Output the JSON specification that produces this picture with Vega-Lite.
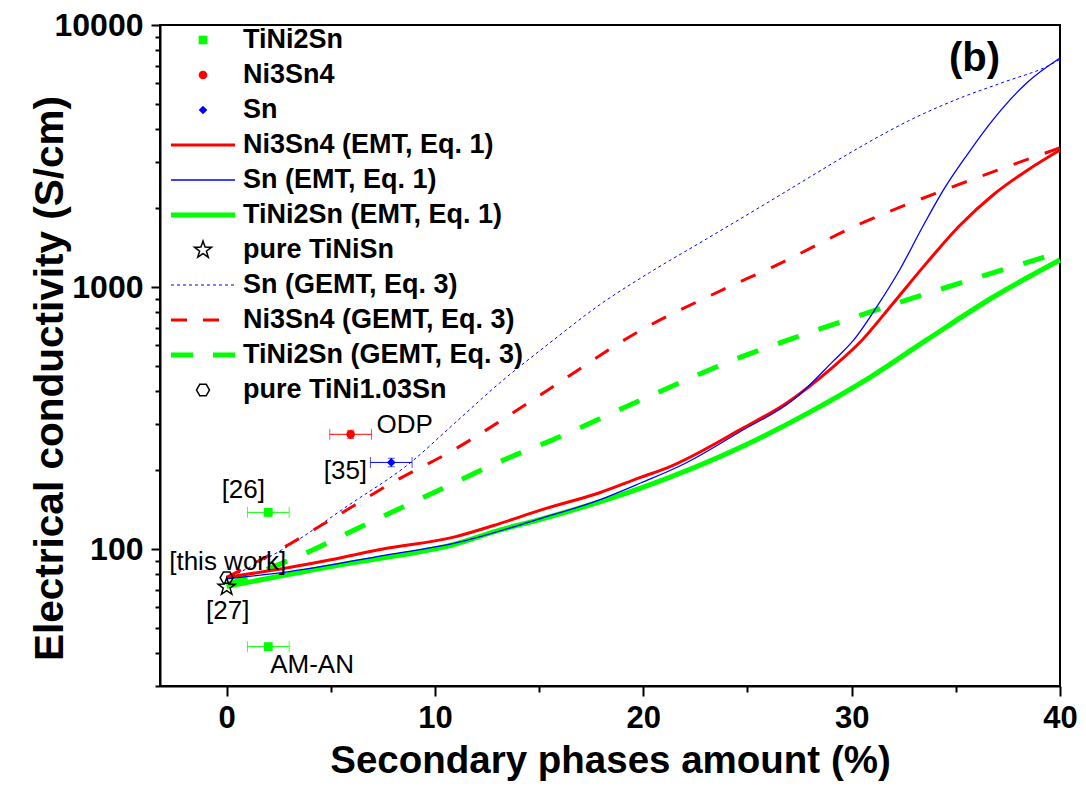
{
  "$schema": "https://vega.github.io/schema/vega-lite/v6.json",
  "width": 900,
  "height": 661,
  "autosize": {"type": "none"},
  "padding": {"left": 160, "top": 25, "right": 26, "bottom": 101},
  "background": "white",
  "config": {
    "view": {"stroke": "black", "strokeWidth": 2},
    "axis": {
      "domainColor": "black", "domainWidth": 2, "tickColor": "black", "tickWidth": 2,
      "labelColor": "black", "titleColor": "black", "grid": false,
      "labelFont": "Liberation Sans", "labelFontWeight": "bold",
      "titleFont": "Liberation Sans", "titleFontWeight": "bold"
    }
  },
  "datasets": {
    "curves": [
      {"series": "Ni3Sn4 (EMT, Eq. 1)", "x": 0, "y": 78},
      {"series": "Ni3Sn4 (EMT, Eq. 1)", "x": 3, "y": 85},
      {"series": "Ni3Sn4 (EMT, Eq. 1)", "x": 5, "y": 91},
      {"series": "Ni3Sn4 (EMT, Eq. 1)", "x": 7.5, "y": 100},
      {"series": "Ni3Sn4 (EMT, Eq. 1)", "x": 10.9, "y": 111},
      {"series": "Ni3Sn4 (EMT, Eq. 1)", "x": 13.1, "y": 125},
      {"series": "Ni3Sn4 (EMT, Eq. 1)", "x": 15.1, "y": 141},
      {"series": "Ni3Sn4 (EMT, Eq. 1)", "x": 17.9, "y": 164},
      {"series": "Ni3Sn4 (EMT, Eq. 1)", "x": 19.9, "y": 188},
      {"series": "Ni3Sn4 (EMT, Eq. 1)", "x": 21.2, "y": 205},
      {"series": "Ni3Sn4 (EMT, Eq. 1)", "x": 24.7, "y": 287},
      {"series": "Ni3Sn4 (EMT, Eq. 1)", "x": 26.9, "y": 362},
      {"series": "Ni3Sn4 (EMT, Eq. 1)", "x": 29.1, "y": 495},
      {"series": "Ni3Sn4 (EMT, Eq. 1)", "x": 30.4, "y": 615},
      {"series": "Ni3Sn4 (EMT, Eq. 1)", "x": 32, "y": 869},
      {"series": "Ni3Sn4 (EMT, Eq. 1)", "x": 33.6, "y": 1236},
      {"series": "Ni3Sn4 (EMT, Eq. 1)", "x": 35.2, "y": 1720},
      {"series": "Ni3Sn4 (EMT, Eq. 1)", "x": 36.8, "y": 2250},
      {"series": "Ni3Sn4 (EMT, Eq. 1)", "x": 38.4, "y": 2780},
      {"series": "Ni3Sn4 (EMT, Eq. 1)", "x": 40, "y": 3334},

      {"series": "Sn (EMT, Eq. 1)", "x": 0, "y": 77},
      {"series": "Sn (EMT, Eq. 1)", "x": 3, "y": 82},
      {"series": "Sn (EMT, Eq. 1)", "x": 7.7, "y": 95},
      {"series": "Sn (EMT, Eq. 1)", "x": 10.9, "y": 105},
      {"series": "Sn (EMT, Eq. 1)", "x": 15.1, "y": 131},
      {"series": "Sn (EMT, Eq. 1)", "x": 17.9, "y": 154},
      {"series": "Sn (EMT, Eq. 1)", "x": 19.9, "y": 179},
      {"series": "Sn (EMT, Eq. 1)", "x": 22, "y": 212},
      {"series": "Sn (EMT, Eq. 1)", "x": 24.7, "y": 282},
      {"series": "Sn (EMT, Eq. 1)", "x": 27.2, "y": 371},
      {"series": "Sn (EMT, Eq. 1)", "x": 29.1, "y": 520},
      {"series": "Sn (EMT, Eq. 1)", "x": 30.1, "y": 628},
      {"series": "Sn (EMT, Eq. 1)", "x": 31.2, "y": 839},
      {"series": "Sn (EMT, Eq. 1)", "x": 32.3, "y": 1161},
      {"series": "Sn (EMT, Eq. 1)", "x": 33.4, "y": 1694},
      {"series": "Sn (EMT, Eq. 1)", "x": 34.4, "y": 2343},
      {"series": "Sn (EMT, Eq. 1)", "x": 35.5, "y": 3162},
      {"series": "Sn (EMT, Eq. 1)", "x": 36.8, "y": 4365},
      {"series": "Sn (EMT, Eq. 1)", "x": 38.4, "y": 6010},
      {"series": "Sn (EMT, Eq. 1)", "x": 40, "y": 7480},

      {"series": "TiNi2Sn (EMT, Eq. 1)", "x": 0, "y": 72},
      {"series": "TiNi2Sn (EMT, Eq. 1)", "x": 3, "y": 80},
      {"series": "TiNi2Sn (EMT, Eq. 1)", "x": 5.95, "y": 88.4},
      {"series": "TiNi2Sn (EMT, Eq. 1)", "x": 7.7, "y": 93},
      {"series": "TiNi2Sn (EMT, Eq. 1)", "x": 10.9, "y": 104},
      {"series": "TiNi2Sn (EMT, Eq. 1)", "x": 13.1, "y": 118},
      {"series": "TiNi2Sn (EMT, Eq. 1)", "x": 15.1, "y": 130},
      {"series": "TiNi2Sn (EMT, Eq. 1)", "x": 19.9, "y": 171},
      {"series": "TiNi2Sn (EMT, Eq. 1)", "x": 24.7, "y": 245},
      {"series": "TiNi2Sn (EMT, Eq. 1)", "x": 27.9, "y": 330},
      {"series": "TiNi2Sn (EMT, Eq. 1)", "x": 30.9, "y": 453},
      {"series": "TiNi2Sn (EMT, Eq. 1)", "x": 33.6, "y": 628},
      {"series": "TiNi2Sn (EMT, Eq. 1)", "x": 36.8, "y": 916},
      {"series": "TiNi2Sn (EMT, Eq. 1)", "x": 40, "y": 1268},

      {"series": "Sn (GEMT, Eq. 3)", "x": 0, "y": 77},
      {"series": "Sn (GEMT, Eq. 3)", "x": 2.9, "y": 102},
      {"series": "Sn (GEMT, Eq. 3)", "x": 5.8, "y": 146},
      {"series": "Sn (GEMT, Eq. 3)", "x": 8.8, "y": 213},
      {"series": "Sn (GEMT, Eq. 3)", "x": 11, "y": 305},
      {"series": "Sn (GEMT, Eq. 3)", "x": 13.1, "y": 430},
      {"series": "Sn (GEMT, Eq. 3)", "x": 15.5, "y": 611},
      {"series": "Sn (GEMT, Eq. 3)", "x": 17.9, "y": 855},
      {"series": "Sn (GEMT, Eq. 3)", "x": 20.3, "y": 1135},
      {"series": "Sn (GEMT, Eq. 3)", "x": 22.7, "y": 1472},
      {"series": "Sn (GEMT, Eq. 3)", "x": 25.6, "y": 2018},
      {"series": "Sn (GEMT, Eq. 3)", "x": 28, "y": 2631},
      {"series": "Sn (GEMT, Eq. 3)", "x": 30.4, "y": 3419},
      {"series": "Sn (GEMT, Eq. 3)", "x": 32.8, "y": 4335},
      {"series": "Sn (GEMT, Eq. 3)", "x": 35.2, "y": 5262},
      {"series": "Sn (GEMT, Eq. 3)", "x": 37.3, "y": 6053},
      {"series": "Sn (GEMT, Eq. 3)", "x": 39.5, "y": 7030},
      {"series": "Sn (GEMT, Eq. 3)", "x": 40, "y": 7400},

      {"series": "Ni3Sn4 (GEMT, Eq. 3)", "x": 0, "y": 78},
      {"series": "Ni3Sn4 (GEMT, Eq. 3)", "x": 3.07, "y": 105},
      {"series": "Ni3Sn4 (GEMT, Eq. 3)", "x": 5.1, "y": 131},
      {"series": "Ni3Sn4 (GEMT, Eq. 3)", "x": 8, "y": 180},
      {"series": "Ni3Sn4 (GEMT, Eq. 3)", "x": 10.9, "y": 239},
      {"series": "Ni3Sn4 (GEMT, Eq. 3)", "x": 14.9, "y": 380},
      {"series": "Ni3Sn4 (GEMT, Eq. 3)", "x": 19.9, "y": 685},
      {"series": "Ni3Sn4 (GEMT, Eq. 3)", "x": 23.8, "y": 975},
      {"series": "Ni3Sn4 (GEMT, Eq. 3)", "x": 26.2, "y": 1192},
      {"series": "Ni3Sn4 (GEMT, Eq. 3)", "x": 30.4, "y": 1740},
      {"series": "Ni3Sn4 (GEMT, Eq. 3)", "x": 34.6, "y": 2370},
      {"series": "Ni3Sn4 (GEMT, Eq. 3)", "x": 40, "y": 3396},

      {"series": "TiNi2Sn (GEMT, Eq. 3)", "x": 0, "y": 73},
      {"series": "TiNi2Sn (GEMT, Eq. 3)", "x": 2, "y": 84},
      {"series": "TiNi2Sn (GEMT, Eq. 3)", "x": 4, "y": 98},
      {"series": "TiNi2Sn (GEMT, Eq. 3)", "x": 6, "y": 117},
      {"series": "TiNi2Sn (GEMT, Eq. 3)", "x": 8, "y": 139},
      {"series": "TiNi2Sn (GEMT, Eq. 3)", "x": 10, "y": 165},
      {"series": "TiNi2Sn (GEMT, Eq. 3)", "x": 13.6, "y": 224},
      {"series": "TiNi2Sn (GEMT, Eq. 3)", "x": 15.5, "y": 258},
      {"series": "TiNi2Sn (GEMT, Eq. 3)", "x": 19.9, "y": 371},
      {"series": "TiNi2Sn (GEMT, Eq. 3)", "x": 24.7, "y": 541},
      {"series": "TiNi2Sn (GEMT, Eq. 3)", "x": 27.2, "y": 638},
      {"series": "TiNi2Sn (GEMT, Eq. 3)", "x": 30.9, "y": 803},
      {"series": "TiNi2Sn (GEMT, Eq. 3)", "x": 34.6, "y": 1000},
      {"series": "TiNi2Sn (GEMT, Eq. 3)", "x": 40, "y": 1355}
    ],
    "points": [
      {"series": "TiNi2Sn", "x": 2, "y": 138, "xlo": 1, "xhi": 3, "ylo": 133, "yhi": 143},
      {"series": "TiNi2Sn", "x": 2, "y": 42.4, "xlo": 1, "xhi": 3, "ylo": 41, "yhi": 43.8},
      {"series": "Ni3Sn4", "x": 5.95, "y": 274, "xlo": 4.95, "xhi": 6.95, "ylo": 264, "yhi": 284},
      {"series": "Sn", "x": 7.9, "y": 214, "xlo": 6.9, "xhi": 8.9, "ylo": 206, "yhi": 222}
    ],
    "refs": [
      {"series": "pure TiNiSn", "x": 0, "y": 71.6},
      {"series": "pure TiNi1.03Sn", "x": 0, "y": 77.7}
    ],
    "labels": [
      {"text": "[26]", "x": 0.8, "y": 168},
      {"text": "[this work]", "x": 0.05, "y": 89},
      {"text": "[27]", "x": 0.05, "y": 58},
      {"text": "[35]", "x": 5.7, "y": 198},
      {"text": "ODP", "x": 8.55, "y": 297},
      {"text": "AM-AN", "x": 4.1, "y": 36.1}
    ]
  },
  "encoding": {
    "x": {"field": "x", "type": "quantitative",
      "scale": {"domain": [-3.2, 40], "nice": false, "zero": false},
      "axis": {
        "values": [0, 5, 10, 15, 20, 25, 30, 35, 40],
        "labelExpr": "datum.value % 10 === 0 ? datum.label : ''",
        "tickSize": {"condition": {"test": "datum.value % 10 === 0", "value": 10}, "value": 6},
        "labelFontSize": 31, "labelPadding": 7, "labelFlush": false,
        "title": "Secondary phases amount (%)", "titleFontSize": 38.5,
        "titleX": 450, "titleY": 86, "titleAlign": "center", "titleBaseline": "alphabetic"
      }
    },
    "y": {"field": "y", "type": "quantitative",
      "scale": {"type": "log", "domain": [30, 10000], "nice": false},
      "axis": {
        "values": [30, 40, 50, 60, 70, 80, 90, 100, 200, 300, 400, 500, 600, 700, 800, 900, 1000, 2000, 3000, 4000, 5000, 6000, 7000, 8000, 9000, 10000],
        "labelExpr": "(datum.value === 100 || datum.value === 1000 || datum.value === 10000) ? format(datum.value, 'd') : ''",
        "tickSize": {"condition": {"test": "datum.value === 100 || datum.value === 1000 || datum.value === 10000", "value": 9}, "value": 5},
        "labelFontSize": 32, "labelPadding": 8, "labelFlush": false,
        "title": "Electrical conductivity (S/cm)", "titleFontSize": 40.5,
        "titleX": -98, "titleY": 353, "titleAngle": -90, "titleAlign": "center", "titleBaseline": "alphabetic"
      }
    },
    "color": {"field": "series", "type": "nominal",
      "scale": {
        "domain": ["TiNi2Sn", "Ni3Sn4", "Sn", "Ni3Sn4 (EMT, Eq. 1)", "Sn (EMT, Eq. 1)", "TiNi2Sn (EMT, Eq. 1)", "pure TiNiSn", "Sn (GEMT, Eq. 3)", "Ni3Sn4 (GEMT, Eq. 3)", "TiNi2Sn (GEMT, Eq. 3)", "pure TiNi1.03Sn"],
        "range": ["#00ff00", "#ff0000", "#0000ff", "#ff0000", "#0000ff", "#00ff00", "#000000", "#0000ff", "#ff0000", "#00ff00", "#000000"]
      },
      "legend": {
        "title": null, "orient": "none", "legendX": 10, "legendY": 2, "padding": 0,
        "labelFont": "Liberation Sans", "labelFontWeight": "bold", "labelFontSize": 27, "labelColor": "black",
        "clipHeight": 26, "rowPadding": 8, "labelOffset": 7, "symbolSize": 4096, "labelLimit": 500,
        "encode": {
          "symbols": {
            "update": {
              "shape": {"signal": "datum.value === 'TiNi2Sn' ? 'square' : datum.value === 'Ni3Sn4' ? 'circle' : datum.value === 'Sn' ? 'diamond' : datum.value === 'pure TiNiSn' ? 'M0,-1L0.235,-0.324L0.951,-0.309L0.38,0.124L0.588,0.809L0,0.4L-0.588,0.809L-0.38,0.124L-0.951,-0.309L-0.235,-0.324Z' : datum.value === 'pure TiNi1.03Sn' ? 'M-1,0L-0.5,-0.866L0.5,-0.866L1,0L0.5,0.866L-0.5,0.866Z' : 'stroke'"},
              "size": {"signal": "(indexof(['TiNi2Sn','Ni3Sn4','Sn'], datum.value) >= 0 ? 75 : datum.value === 'pure TiNiSn' ? 320 : datum.value === 'pure TiNi1.03Sn' ? 170 : 4096)"},
              "fill": {"signal": "indexof(['TiNi2Sn','Ni3Sn4','Sn'], datum.value) >= 0 ? scale('color', datum.value) : 'white'"},
              "fillOpacity": {"signal": "indexof(['TiNi2Sn','Ni3Sn4','Sn'], datum.value) >= 0 ? 1 : 0"},
              "stroke": {"signal": "scale('color', datum.value)"},
              "strokeWidth": {"signal": "(indexof(['TiNi2Sn','Ni3Sn4','Sn'], datum.value) >= 0 ? 0 : indexof(['TiNi2Sn (EMT, Eq. 1)','TiNi2Sn (GEMT, Eq. 3)'], datum.value) >= 0 ? 5 : indexof(['Ni3Sn4 (EMT, Eq. 1)','Ni3Sn4 (GEMT, Eq. 3)'], datum.value) >= 0 ? 3 : datum.value === 'Sn (GEMT, Eq. 3)' ? 1 : 1.5)"},
              "strokeDash": {"signal": "datum.value === 'Sn (GEMT, Eq. 3)' ? [3, 3] : datum.value === 'Ni3Sn4 (GEMT, Eq. 3)' ? [16, 16] : datum.value === 'TiNi2Sn (GEMT, Eq. 3)' ? [22, 20] : [1, 0]"},
              "opacity": {"value": 1}
            }
          }
        }
      }
    }
  },
  "layer": [
    {
      "data": {"name": "curves"},
      "transform": [{"filter": "datum.series === 'Sn (GEMT, Eq. 3)'"}],
      "mark": {"type": "line", "interpolate": "monotone", "strokeWidth": 1, "strokeDash": [3, 3]}
    },
    {
      "data": {"name": "curves"},
      "transform": [{"filter": "datum.series === 'TiNi2Sn (GEMT, Eq. 3)'"}],
      "mark": {"type": "line", "interpolate": "monotone", "strokeWidth": 5, "strokeDash": [22, 21]}
    },
    {
      "data": {"name": "curves"},
      "transform": [{"filter": "datum.series === 'Ni3Sn4 (GEMT, Eq. 3)'"}],
      "mark": {"type": "line", "interpolate": "monotone", "strokeWidth": 3, "strokeDash": [16, 17]}
    },
    {
      "data": {"name": "curves"},
      "transform": [{"filter": "datum.series === 'TiNi2Sn (EMT, Eq. 1)'"}],
      "mark": {"type": "line", "interpolate": "monotone", "strokeWidth": 5}
    },
    {
      "data": {"name": "curves"},
      "transform": [{"filter": "datum.series === 'Ni3Sn4 (EMT, Eq. 1)'"}],
      "mark": {"type": "line", "interpolate": "monotone", "strokeWidth": 3}
    },
    {
      "data": {"name": "curves"},
      "transform": [{"filter": "datum.series === 'Sn (EMT, Eq. 1)'"}],
      "mark": {"type": "line", "interpolate": "monotone", "strokeWidth": 1.3}
    },
    {
      "data": {"name": "points"},
      "mark": {"type": "rule", "strokeWidth": 1},
      "encoding": {
        "x": {"field": "xlo", "type": "quantitative"},
        "x2": {"field": "xhi"}
      }
    },
    {
      "data": {"name": "points"},
      "mark": {"type": "rule", "strokeWidth": 1},
      "encoding": {
        "y": {"field": "ylo", "type": "quantitative"},
        "y2": {"field": "yhi"}
      }
    },
    {
      "data": {"name": "points"},
      "mark": {"type": "tick", "orient": "vertical", "size": 11, "thickness": 1},
      "encoding": {
        "x": {"field": "xlo", "type": "quantitative"}
      }
    },
    {
      "data": {"name": "points"},
      "mark": {"type": "tick", "orient": "vertical", "size": 11, "thickness": 1},
      "encoding": {
        "x": {"field": "xhi", "type": "quantitative"}
      }
    },
    {
      "data": {"name": "points"},
      "mark": {"type": "tick", "orient": "horizontal", "size": 7, "thickness": 1},
      "encoding": {
        "y": {"field": "ylo", "type": "quantitative"}
      }
    },
    {
      "data": {"name": "points"},
      "mark": {"type": "tick", "orient": "horizontal", "size": 7, "thickness": 1},
      "encoding": {
        "y": {"field": "yhi", "type": "quantitative"}
      }
    },
    {
      "data": {"name": "points"},
      "mark": {"type": "point", "filled": true, "size": 75, "opacity": 1},
      "encoding": {
        "shape": {"field": "series", "type": "nominal", "legend": null,
          "scale": {
            "domain": ["TiNi2Sn", "Ni3Sn4", "Sn", "pure TiNiSn", "pure TiNi1.03Sn"],
            "range": ["square", "circle", "diamond", "M0,-1L0.235,-0.324L0.951,-0.309L0.38,0.124L0.588,0.809L0,0.4L-0.588,0.809L-0.38,0.124L-0.951,-0.309L-0.235,-0.324Z", "M-1,0L-0.5,-0.866L0.5,-0.866L1,0L0.5,0.866L-0.5,0.866Z"]
          }
        }
      }
    },
    {
      "data": {"name": "refs"},
      "mark": {"type": "point", "filled": false, "strokeWidth": 1.5, "opacity": 1},
      "encoding": {
        "shape": {"field": "series", "type": "nominal", "legend": null},
        "size": {"condition": {"test": "datum.series === 'pure TiNiSn'", "value": 320}, "value": 170}
      }
    },
    {
      "data": {"name": "labels"},
      "mark": {"type": "text", "font": "Liberation Sans", "fontSize": 26, "color": "black", "align": "center", "baseline": "middle"},
      "encoding": {
        "text": {"field": "text", "type": "nominal"},
        "color": {"value": "black"}
      }
    },
    {
      "data": {"values": [{"text": "(b)", "x": 35.9, "y": 7400}]},
      "mark": {"type": "text", "font": "Liberation Sans", "fontSize": 40, "fontWeight": "bold", "color": "black", "align": "center", "baseline": "middle"},
      "encoding": {
        "text": {"field": "text", "type": "nominal"},
        "color": {"value": "black"}
      }
    }
  ]
}
